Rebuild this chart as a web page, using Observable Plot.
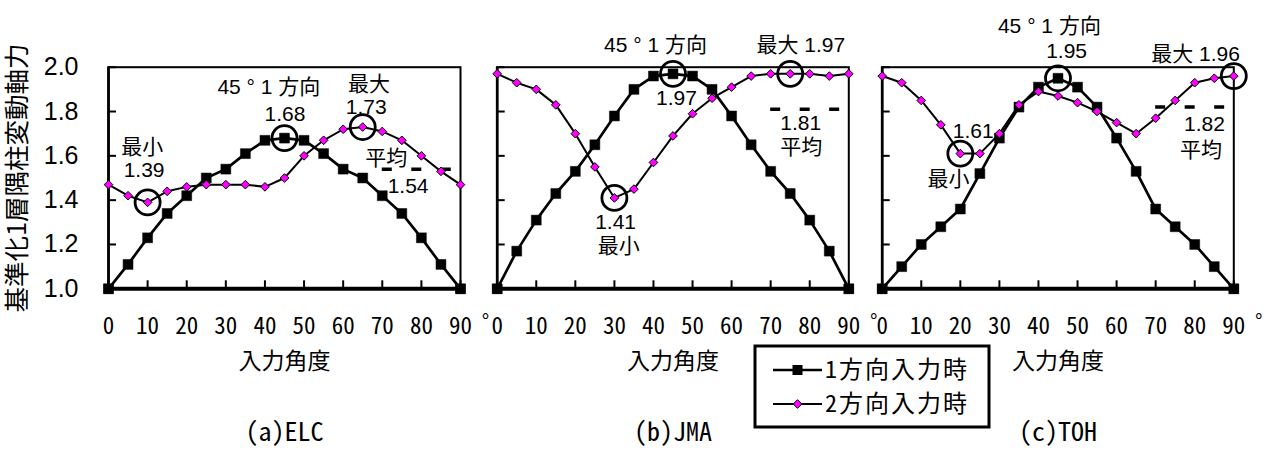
<!DOCTYPE html>
<html><head><meta charset="utf-8">
<script src="https://cdn.jsdelivr.net/npm/d3@7"></script>
<script src="https://cdn.jsdelivr.net/npm/@observablehq/plot@0.6"></script>
<style>
body{margin:0;background:#fff;}
#root{position:relative;width:1270px;height:457px;overflow:hidden;background:#fff;}
.panel{position:absolute;top:0;}
.panel svg{overflow:visible;max-width:none;}
</style></head><body><div id="root"></div>
<script>
const angles = [0,5,10,15,20,25,30,35,40,45,50,55,60,65,70,75,80,85,90];
const xTicks = [0,10,20,30,40,50,60,70,80,90];
const yTicks = [1.0,1.2,1.4,1.6,1.8,2.0];
const seriesNames = ["1方向入力時","2方向入力時"];
const captions = ["(a)ELC","(b)JMA","(c)TOH"];
const yTitle = "基準化1層隅柱変動軸力";
const xTitle = "入力角度";
const degreeMark = "°";

const elcOne = [1.00,1.11,1.23,1.34,1.42,1.50,1.54,1.61,1.67,1.68,1.67,1.61,1.54,1.50,1.42,1.34,1.23,1.11,1.00];
const elcTwo = [1.47,1.42,1.39,1.44,1.46,1.47,1.47,1.47,1.46,1.50,1.60,1.67,1.72,1.73,1.71,1.67,1.60,1.53,1.47];
const jmaOne = [1.00,1.17,1.31,1.43,1.53,1.65,1.78,1.90,1.96,1.97,1.96,1.90,1.78,1.65,1.53,1.43,1.31,1.17,1.00];
const jmaTwo = [1.97,1.93,1.90,1.83,1.70,1.55,1.41,1.45,1.57,1.69,1.79,1.86,1.91,1.96,1.97,1.97,1.97,1.96,1.97];
const tohOne = [1.00,1.10,1.20,1.28,1.36,1.52,1.68,1.82,1.91,1.95,1.91,1.82,1.68,1.53,1.36,1.28,1.20,1.10,1.00];
const tohTwo = [1.96,1.93,1.85,1.74,1.61,1.61,1.70,1.83,1.89,1.87,1.84,1.80,1.75,1.70,1.77,1.85,1.93,1.95,1.96];
const averages = [1.54, 1.81, 1.82];

const elcCircles = [{a:10,v:1.39},{a:45,v:1.68},{a:65,v:1.73}];
const jmaCircles = [{a:30,v:1.41},{a:45,v:1.97},{a:75,v:1.97}];
const tohCircles = [{a:20,v:1.61},{a:45,v:1.95},{a:90,v:1.96}];

const elcLabels = [
 {t:"45 ° 1 方向", a:41.0, v:1.91},
 {t:"1.68", a:45.1, v:1.786},
 {t:"最大", a:66.6, v:1.921},
 {t:"1.73", a:65.9, v:1.818},
 {t:"最小", a:8.6, v:1.64},
 {t:"1.39", a:9.1, v:1.536},
 {t:"平均", a:71.0, v:1.588},
 {t:"1.54", a:76.6, v:1.464}];
const jmaLabels = [
 {t:"45 ° 1 方向", a:40.5, v:2.098},
 {t:"最大 1.97", a:77.7, v:2.098},
 {t:"1.97", a:45.9, v:1.859},
 {t:"1.41", a:30.3, v:1.30},
 {t:"最小", a:31.1, v:1.191},
 {t:"1.81", a:77.7, v:1.746},
 {t:"平均", a:77.8, v:1.638}];
const tohLabels = [
 {t:"45 ° 1 方向", a:42.8, v:2.184},
 {t:"1.95", a:47.2, v:2.071},
 {t:"最大 1.96", a:80.2, v:2.057},
 {t:"1.61", a:23.3, v:1.71},
 {t:"最小", a:17.0, v:1.493},
 {t:"1.82", a:82.5, v:1.741},
 {t:"平均", a:81.6, v:1.624}];

const SANS = "'Liberation Sans', 'Noto Sans CJK JP', sans-serif";
const MONO = "'Noto Sans Mono CJK JP', 'Liberation Mono', monospace";
const CJK = "'Noto Sans CJK JP', sans-serif";

function panel({one, two, avg, circles, labels, caption, showY, left, width, ml, mr}) {
  const dOne = angles.map((a, i) => ({a, v: one[i]}));
  const dTwo = angles.map((a, i) => ({a, v: two[i]}));
  const marks = [
    Plot.frame({stroke: "black", strokeWidth: 2}),
    Plot.ruleX([0], {stroke: "black", strokeWidth: 2.7}),
    Plot.axisX(xTicks, {tickSize: 8, insetBottom: 8, fill: "none", stroke: "black", strokeWidth: 2, label: null}),
    Plot.axisY(yTicks, {tickSize: 8, insetLeft: 8, fill: "none", stroke: "black", strokeWidth: 2, label: null}),
    Plot.axisX(xTicks, {tickSize: 0, tickPadding: 29, fill: "black", fontSize: 23, fontFamily: MONO, label: null, ariaLabel: "xticklabels"}),
    Plot.text([degreeMark], {x: 90, frameAnchor: "bottom", dx: 25, dy: 39, fontSize: 20, fontFamily: SANS, fill: "black"}),
    Plot.text([xTitle], {frameAnchor: "bottom", dy: 80, fontSize: 23, fontFamily: CJK, fill: "black", ariaLabel: "xtitle"}),
    Plot.text([caption], {frameAnchor: "bottom", dy: 152, fontSize: 26, fontFamily: MONO, fill: "black"}),
    Plot.ruleY([{y: avg, x1: 70, x2: 92}], {y: "y", x1: "x1", x2: "x2", stroke: "black", strokeWidth: 3.5, strokeDasharray: "10,19.5"}),
    Plot.line(dOne, {x: "a", y: "v", stroke: "black", strokeWidth: 2.7}),
    Plot.dot(dOne, {x: "a", y: "v", symbol: "square", r: 5.6, fill: "black", stroke: "black", strokeWidth: 0.5}),
    Plot.line(dTwo, {x: "a", y: "v", stroke: "black", strokeWidth: 2}),
    Plot.dot(dTwo, {x: "a", y: "v", symbol: "diamond2", r: 3.9, fill: "#ff00ff", stroke: "black", strokeWidth: 1}),
    Plot.ruleY([1], {stroke: "black", strokeWidth: 4}),
    Plot.dot(dOne.filter(d => d.v === 1), {x: "a", y: "v", symbol: "square", r: 5.6, fill: "black"}),
    Plot.dot(circles, {x: "a", y: "v", r: 12.5, stroke: "black", strokeWidth: 2.8, fill: "none"}),
    Plot.text(labels, {x: "a", y: "v", text: "t", fontSize: 21, fontFamily: SANS, fill: "black", ariaLabel: "annot"})
  ];
  if (showY) {
    marks.push(Plot.axisY(yTicks, {tickSize: 0, tickPadding: 30, tickFormat: d3.format(".1f"), fontSize: 25, fontFamily: SANS, fill: "black", label: null, ariaLabel: "yticklabels"}));
    marks.push(Plot.text([yTitle], {frameAnchor: "left", textAnchor: "middle", dx: -91, rotate: -90, fontSize: 25.5, fontFamily: CJK, fill: "black", ariaLabel: "ytitle"}));
  }
  const svg = Plot.plot({
    width, height: 457,
    marginLeft: ml, marginRight: mr, marginTop: 66.7, marginBottom: 168.7,
    x: {domain: [0, 90]},
    y: {domain: [1, 2]},
    style: {background: "transparent", overflow: "visible", color: "black"},
    marks
  });
  const s = d3.select(svg);
  s.selectAll('g[aria-label="annot"] text').style("letter-spacing", "2px");
  s.selectAll('g[aria-label="yticklabels"] text').style("letter-spacing", "3px");
  s.selectAll('g[aria-label="xtitle"] text').style("letter-spacing", "4px");
  s.selectAll('g[aria-label="ytitle"] text').style("letter-spacing", "2px");
  const div = document.createElement("div");
  div.className = "panel";
  div.style.left = left + "px";
  div.appendChild(svg);
  document.getElementById("root").appendChild(div);
}

panel({one: elcOne, two: elcTwo, avg: averages[0], circles: elcCircles, labels: elcLabels, caption: captions[0], showY: true, left: 0, width: 480, ml: 108, mr: 20});
panel({one: jmaOne, two: jmaTwo, avg: averages[1], circles: jmaCircles, labels: jmaLabels, caption: captions[1], showY: false, left: 480, width: 400, ml: 16.7, mr: 31.7});
panel({one: tohOne, two: tohTwo, avg: averages[2], circles: tohCircles, labels: tohLabels, caption: captions[2], showY: false, left: 870, width: 400, ml: 11.7, mr: 36.7});

// legend
const lg = d3.select("#root").append("svg")
  .attr("width", 240).attr("height", 90)
  .style("position", "absolute").style("left", "752px").style("top", "343px");
lg.append("rect").attr("x", 3).attr("y", 3).attr("width", 234).attr("height", 81)
  .attr("fill", "white").attr("stroke", "black").attr("stroke-width", 3);
const rowsY = [27, 61];
seriesNames.forEach((name, i) => {
  const y = rowsY[i];
  lg.append("line").attr("x1", 21).attr("x2", 70).attr("y1", y).attr("y2", y)
    .attr("stroke", "black").attr("stroke-width", i === 0 ? 2.7 : 2);
  if (i === 0) {
    lg.append("rect").attr("x", 45.5 - 5).attr("y", y - 5).attr("width", 10).attr("height", 10).attr("fill", "black");
  } else {
    lg.append("path").attr("d", d3.symbol(d3.symbolDiamond2, Math.PI * 3.9 * 3.9)())
      .attr("transform", `translate(45.5,${y})`).attr("fill", "#ff00ff").attr("stroke", "black").attr("stroke-width", 1);
  }
  lg.append("text").attr("x", 73).attr("y", y).attr("dy", "0.35em")
    .attr("font-family", MONO).attr("font-size", 24).style("letter-spacing", "2px")
    .attr("fill", "black").text(name);
});
</script></body></html>
